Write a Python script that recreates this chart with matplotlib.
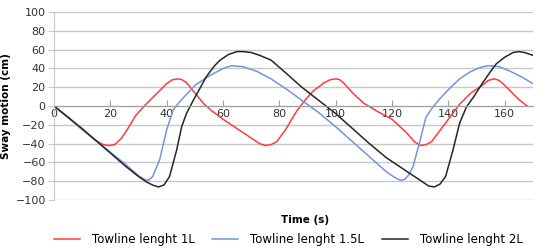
import matplotlib
matplotlib.use("Agg")
import matplotlib.pyplot as plt

# Towline length 1L
t_1l = [0, 5, 10, 15, 17.5, 19.5, 21.5, 24, 26, 29, 32, 36, 40, 42, 44, 45.5, 47, 50, 53,
        56, 60, 64, 70, 73, 75, 77, 79, 82, 86, 89, 92, 96, 98, 100, 101.5, 103, 106, 110,
        115, 120, 125, 128, 130, 132, 134, 137, 141, 144, 148, 152, 154, 156, 157.5, 159,
        162, 165, 168]
y_1l = [0, -12, -25, -37, -41, -42, -41, -34, -25, -10, 0, 12, 24, 28, 29, 28, 25, 14, 3,
        -5, -14, -22, -34, -40, -42, -41, -38, -26, -6, 6, 16, 25, 28, 29, 28, 24, 14, 3,
        -6, -14, -28, -38, -42, -41, -38, -26, -10, 2, 14, 22, 27, 29, 28, 25, 16, 7, 0]

# Towline length 1.5L
t_15l = [0, 5, 10, 15, 20, 25, 30, 32, 33.5, 35, 37.5, 40, 42.3, 45, 50, 55, 60, 63, 67,
         72, 77, 83, 88, 94, 100, 106, 112, 118, 121, 123, 124.5, 126, 127.5, 130, 132,
         134.5, 137, 140.5, 144, 147.5, 151, 154, 158, 162, 166, 170]
y_15l = [0, -12, -25, -37, -49, -61, -74, -78, -79, -75, -57, -25, -4, 6, 22, 32, 40, 43, 42,
         37, 29, 17, 6, -7, -22, -38, -54, -70, -76, -79, -78, -73, -64, -36, -12, -1,
         8, 19, 29, 36, 41, 43, 42, 37, 31, 24]

# Towline length 2L
t_2l = [0, 5, 10, 15, 20, 25, 30, 33, 35, 37, 39, 41, 43.5, 45.3, 47, 49.4, 52, 54, 57,
        59, 62, 65, 67, 70, 73, 77, 82, 88, 94, 100, 106, 112, 118, 124, 128, 131, 133,
        135, 137, 139, 141.6, 144, 146.4, 149, 152, 155, 157, 160, 163, 165, 167, 170]
y_2l = [0, -12, -24, -37, -50, -63, -75, -81, -84, -86, -84, -75, -47, -22, -8, 6, 20, 31, 43,
        49, 55, 58, 58, 57, 54, 49, 36, 20, 6, -8, -24, -40, -55, -67, -75, -81, -85,
        -86, -83, -75, -47, -18, -1, 10, 24, 37, 45, 52, 57, 58, 57, 54]

labels = ["Towline lenght 1L", "Towline lenght 1.5L", "Towline lenght 2L"]
colors = ["#ff3b3b", "#6f96dc", "#262626"]

fig = plt.figure(figsize=(5.46, 2.52), dpi=100)
ax = fig.add_axes([0.099, 0.206, 0.877, 0.746])

for t, y, lab, c in zip([t_1l, t_15l, t_2l], [y_1l, y_15l, y_2l], labels, colors):
    ax.plot(t, y, color=c, lw=1.1, label=lab)

ax.set_xlim(0, 170)
ax.set_ylim(-100, 100)
ax.set_yticks(range(-100, 101, 20))
ax.set_xticks(range(0, 161, 20))
ax.grid(axis="y", color="#c8c8c8", lw=1)
ax.set_axisbelow(True)

for s in ["top", "right"]:
    ax.spines[s].set_visible(False)
ax.spines["bottom"].set_position(("data", 0))
ax.spines["bottom"].set_color("#a0a0a0")
ax.spines["left"].set_color("#c8c8c8")
ax.tick_params(axis="y", length=4, color="#c8c8c8", labelsize=8, pad=2)
ax.tick_params(axis="x", length=4, direction="in", color="#a0a0a0", labelsize=8, pad=2)
for lbl in ax.get_xticklabels() + ax.get_yticklabels():
    lbl.set_color("#333333")

ax.set_ylabel("Sway motion (cm)", fontsize=7.5, fontweight="bold", labelpad=3)
fig.text(0.558, 0.127, "Time (s)", fontsize=7.5, fontweight="bold", ha="center", va="center")

fig.legend(loc="center", bbox_to_anchor=(0.528, 0.05), ncol=3, frameon=False, fontsize=8.5,
           handlelength=2.2, columnspacing=1.5, handletextpad=1.0)

fig.savefig("out.png", dpi=100)
